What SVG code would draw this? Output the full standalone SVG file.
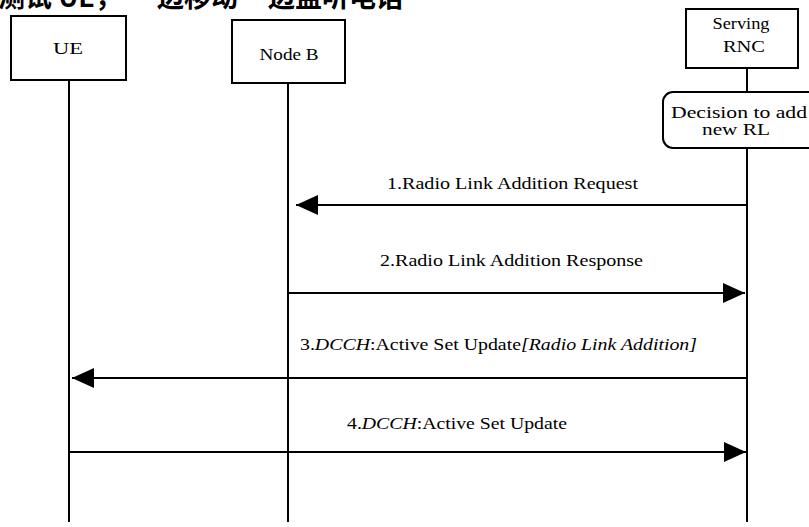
<svg xmlns="http://www.w3.org/2000/svg" width="809" height="527" viewBox="0 0 809 527">
<style>
.box{fill:#fff;stroke:#000;stroke-width:2}
.life{stroke:#000;stroke-width:2;fill:none}
.msg{stroke:#000;stroke-width:2;fill:none}
.t{font-family:"Liberation Serif","Times New Roman",serif;font-size:16px;fill:#000}
.cjk{font-family:"Noto Sans CJK SC","Noto Sans CJK JP",sans-serif;font-size:27px;font-weight:bold;fill:#000}
.i{font-style:italic}
</style>
<defs>
<marker id="ah" markerUnits="userSpaceOnUse" markerWidth="22" markerHeight="20" refX="22" refY="10" orient="auto">
<path d="M0,0 L22,10 L0,20 z" fill="#000"/>
</marker>
</defs>
<g id="caption">
<text class="cjk" x="-2" y="7">测试 UE，<tspan x="157">边移动</tspan><tspan x="268">边监听电话</tspan></text>
</g>
<g id="ue">
<rect class="box" x="11" y="16" width="115" height="64"/>
<text class="t" x="68" y="54" text-anchor="middle" textLength="30" lengthAdjust="spacingAndGlyphs">UE</text>
<line class="life" x1="69" y1="80" x2="69" y2="522"/>
</g>
<g id="nodeb">
<rect class="box" x="232" y="20" width="113" height="63"/>
<text class="t" x="289" y="60" text-anchor="middle" textLength="59" lengthAdjust="spacingAndGlyphs">Node B</text>
<line class="life" x1="288" y1="83" x2="288" y2="522"/>
</g>
<g id="rnc">
<rect class="box" x="686" y="9" width="112" height="59"/>
<text class="t" x="741" y="29" text-anchor="middle" textLength="57" lengthAdjust="spacingAndGlyphs">Serving</text>
<text class="t" x="744" y="52" text-anchor="middle" textLength="42" lengthAdjust="spacingAndGlyphs">RNC</text>
<line class="life" x1="747" y1="68" x2="747" y2="92"/>
<line class="life" x1="747" y1="148" x2="747" y2="522"/>
</g>
<g id="decision">
<rect class="box" x="663" y="92" width="160" height="56" rx="10" ry="10"/>
<text class="t" x="739" y="118" text-anchor="middle" textLength="136" lengthAdjust="spacingAndGlyphs">Decision to add</text>
<text class="t" x="736" y="135" text-anchor="middle" textLength="68" lengthAdjust="spacingAndGlyphs">new RL</text>
</g>
<g id="connectors">
<line class="msg" x1="746" y1="205" x2="296" y2="205" marker-end="url(#ah)"/>
<text class="t" x="387" y="189" textLength="251" lengthAdjust="spacingAndGlyphs">1.Radio Link Addition Request</text>
<line class="msg" x1="288" y1="293" x2="745" y2="293" marker-end="url(#ah)"/>
<text class="t" x="380" y="266" textLength="263" lengthAdjust="spacingAndGlyphs">2.Radio Link Addition Response</text>
<line class="msg" x1="746" y1="378" x2="72" y2="378" marker-end="url(#ah)"/>
<text class="t" x="300" y="350" textLength="397" lengthAdjust="spacingAndGlyphs">3.<tspan class="i">DCCH</tspan>:Active Set Update<tspan class="i">[Radio Link Addition]</tspan></text>
<line class="msg" x1="69" y1="452" x2="746" y2="452" marker-end="url(#ah)"/>
<text class="t" x="347" y="429" textLength="220" lengthAdjust="spacingAndGlyphs">4.<tspan class="i">DCCH</tspan>:Active Set Update</text>
</g>
</svg>
